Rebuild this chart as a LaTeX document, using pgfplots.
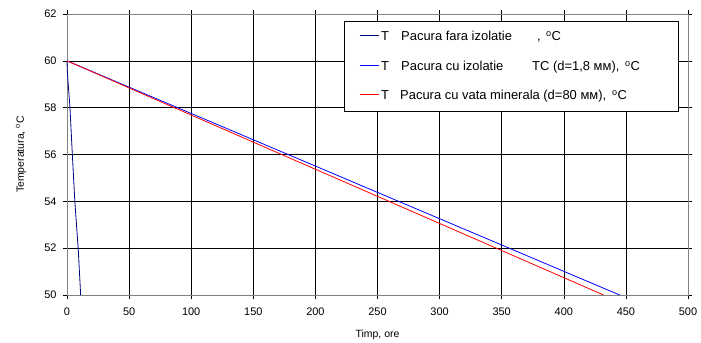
\documentclass[border=0pt]{standalone}
\usepackage{pgfplots}
\pgfplotsset{compat=1.18}
\usepackage{fontspec}
\setmainfont{Liberation Sans}
\definecolor{navyb}{RGB}{0,0,128}
\definecolor{frame}{RGB}{128,128,128}
\begin{document}
\begin{tikzpicture}
\begin{axis}[
  scale only axis,
  width=621bp, height=281bp,
  xmin=0, xmax=500, ymin=50, ymax=62,
  xtick={0,50,...,500}, ytick={50,52,...,62},
  /pgf/number format/assume math mode=true,
  tick label style={font=\fontsize{11}{13}\selectfont},
  xticklabel style={yshift=-5bp},
  yticklabel style={xshift=-3bp},
  label style={font=\fontsize{10.5}{12}\selectfont},
  xlabel={Timp, ore},
  ylabel={Temperatura, \textsuperscript{o}C},
  xlabel style={at={(axis description cs:0.5,0)}, anchor=center, yshift=-40bp},
  ylabel style={at={(axis description cs:0,0.5)}, anchor=center, yshift=46bp},
  axis line style={frame, line width=0.8pt},
  grid=major,
  major grid style={black, line width=0.6pt},
  tick align=outside,
  tick style={black, line width=0.6pt},
  major tick length=4bp,
  clip=false,
]
\addplot[color=navyb, line width=0.8pt] coordinates {
(0,60) (0.3,59.5) (2.4,58) (4.3,56) (6.3,54) (9,52) (11,50)};
\addplot[color=blue, line width=0.8pt] coordinates {
(0,60) (50,58.876) (100,57.753) (150,56.629) (200,55.506) (250,54.382) (300,53.258) (350,52.135) (400,51.011) (445,50)};
\addplot[color=red, line width=0.8pt] coordinates {
(0,60) (50,58.843) (100,57.685) (150,56.528) (200,55.370) (250,54.213) (300,53.056) (350,51.898) (400,50.741) (432,50)};
\coordinate (o) at (rel axis cs:0,0);
\end{axis}
\coordinate (tl) at ([shift={(-67bp,295bp)}]o);
\begin{scope}[shift={(tl)}, x=1bp, y=-1bp,
  lt/.style={anchor=base west, inner sep=0pt, font=\fontsize{13}{15}\selectfont}]
  \draw[black, line width=0.6pt, fill=white] (344,21) rectangle (678,111);
  % entry 1
  \draw[navyb, line width=1bp] (360,35.5) -- (379,35.5);
  \node[lt] at (381,41) {T};
  \node[lt] at (401,41) {Pacura fara izolatie};
  \node[lt] at (537,41) {,};
  \node[lt] at (546,41) {\textsuperscript{o}C};
  % entry 2
  \draw[blue, line width=1bp] (360,65.5) -- (379,65.5);
  \node[lt] at (381,70.5) {T};
  \node[lt] at (401,70.5) {Pacura cu izolatie};
  \node[lt] at (532,70.5) {TC (d=1,8 мм),};
  \node[lt] at (625,70.5) {\textsuperscript{o}C};
  % entry 3
  \draw[red, line width=1bp] (360,94.5) -- (379,94.5);
  \node[lt] at (381,100) {T};
  \node[lt] at (400,100) {Pacura cu vata minerala (d=80 мм),};
  \node[lt] at (612,100) {\textsuperscript{o}C};
\end{scope}
\pgfresetboundingbox
\path ([shift={(-67bp,-48bp)}]o) rectangle ([shift={(634bp,295bp)}]o);
\end{tikzpicture}
\end{document}
